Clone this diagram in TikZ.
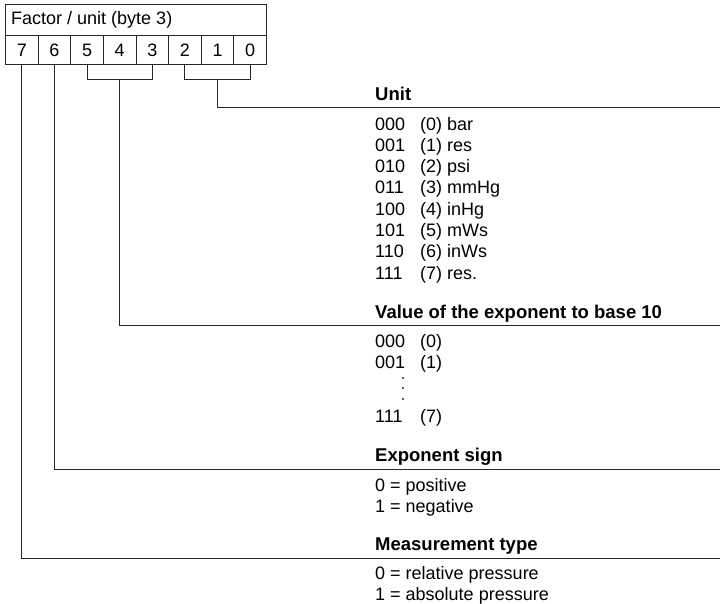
\documentclass[tikz,border=0pt]{standalone}
\usepackage{fontspec}
\setmainfont{Liberation Sans}
\begin{document}
\begin{tikzpicture}[x=1pt,y=-1pt,
  ln/.style={line width=0.9pt,draw=black!85},
  cell/.style={ln,minimum width=32.625pt,minimum height=29pt,inner sep=0,anchor=north west,font=\fontsize{18}{21}\selectfont},
  txt/.style={anchor=base west,inner sep=0,font=\fontsize{18}{21}\selectfont},
  hdr/.style={txt,font=\fontsize{18.5}{21}\selectfont\bfseries}]
\useasboundingbox (0,0) rectangle (720,603);
% title box
\node[ln,anchor=north west,minimum width=261pt,minimum height=31pt,inner sep=0] (title) at (5,4) {};
\node[txt,anchor=west] (titletxt) at (11,19.5) {Factor / unit (byte 3)};
% bit cells
\foreach \b/\i in {7/0,6/1,5/2,4/3,3/4,2/5,1/6,0/7}{
  \node[cell] (b\b) at ({5+32.625*\i},35) {\b};
}
% brackets
\coordinate (k5) at ([yshift=-15pt]b5.south);
\coordinate (k3) at ([yshift=-15pt]b3.south);
\coordinate (k4) at ([yshift=-15pt]b4.south);
\coordinate (k2) at ([yshift=-15pt]b2.south);
\coordinate (k0) at ([yshift=-15pt]b0.south);
\coordinate (k1) at ([yshift=-15pt]b1.south);
\draw[ln] (b5.south) -- (k5) -- (k3) -- (b3.south);
\draw[ln] (b2.south) -- (k2) -- (k0) -- (b0.south);
% line ends at right edge
\coordinate (e1) at (720,107.5);
\coordinate (e2) at (720,325.5);
\coordinate (e3) at (720,469);
\coordinate (e4) at (720,558.5);
\draw[ln] (k1) |- (e1);
\draw[ln] (k4) |- (e2);
\draw[ln] (b6.south) |- (e3);
\draw[ln] (b7.south) |- (e4);
% Unit
\node[hdr] (h1) at (375,100) {Unit};
\foreach \c/\t [count=\k from 0] in {000/(0) bar,001/(1) res,010/(2) psi,011/(3) mmHg,100/(4) inHg,101/(5) mWs,110/(6) inWs,111/(7) res.}{
  \node[txt] (uc\k) at (375,{130+21.3*\k}) {\c};
  \node[txt] (ut\k) at (420,{130+21.3*\k}) {\t};
}
% Value of the exponent
\node[hdr] (h2) at (375,318.5) {Value of the exponent to base 10};
\node[txt] (vc0) at (375,347) {000};
\node[txt] (vt0) at (420,347) {(0)};
\node[txt] (vc1) at (375,368) {001};
\node[txt] (vt1) at (420,368) {(1)};
\foreach \y [count=\k] in {378,388,399}{
  \fill[black!85] (403,\y) circle (1.1pt);
}
\node[txt] (vc7) at (375,422) {111};
\node[txt] (vt7) at (420,422) {(7)};
% Exponent sign
\node[hdr] (h3) at (375,461.5) {Exponent sign};
\node[txt] (s0) at (375,491.5) {0 = positive};
\node[txt] (s1) at (375,512) {1 = negative};
% Measurement type
\node[hdr] (h4) at (375,550.5) {Measurement type};
\node[txt] (m0) at (375,579.5) {0 = relative pressure};
\node[txt] (m1) at (375,600) {1 = absolute pressure};
\end{tikzpicture}
\end{document}
